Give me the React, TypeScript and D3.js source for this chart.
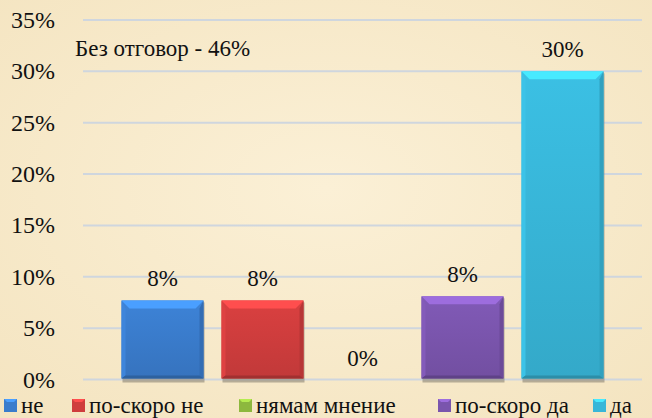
import * as d3 from 'd3';

const categories = ['не', 'по-скоро не', 'нямам мнение', 'по-скоро да', 'да'];
const values = [0.077, 0.077, 0, 0.081, 0.30];
const valueLabels = ['8%', '8%', '0%', '8%', '30%'];
const colors = ['#3a7ccc', '#cf3d3d', '#8db83e', '#7a55ad', '#38b6d8'];
const yTicks = [0, 0.05, 0.1, 0.15, 0.2, 0.25, 0.3, 0.35];
const note = 'Без отговор - 46%';
const legendX = [4, 72, 239, 438, 593];

const W = 652, H = 418;
const FONT = 'Liberation Serif';

const x = d3.scaleBand<string>()
    .domain(categories)
    .range([83, 642])
    .paddingInner(0.18)
    .paddingOuter(0.385);

const y = d3.scaleLinear()
    .domain([0, 0.35])
    .range([379.5, 20]);

const lighter = (c: string, k: number) => d3.color(c)!.brighter(k).toString();
const darker = (c: string, k: number) => d3.color(c)!.darker(k).toString();

function Bar({ i }: { i: number }) {
    const v = values[i];
    if (v <= 0) return null;
    const c = colors[i];
    const x0 = x(categories[i])!;
    const bw = x.bandwidth();
    const y0 = y(v);
    const y1 = y(0);
    const b = Math.min(8, (y1 - y0) / 2);
    return (
        <g>
            {/* shadow */}
            <rect x={x0 + 1} y={y0 + 2} width={bw} height={y1 - y0 + 1} fill="#8a8474" opacity={0.6} />
            <rect x={x0} y={y0} width={bw} height={y1 - y0 - 1} fill={'url(#body' + i + ')'} />
            <path d={`M${x0},${y0}L${x0 + bw},${y0}L${x0 + bw - b},${y0 + b}L${x0 + b},${y0 + b}Z`} fill={lighter(c, 0.7)} />
            <path d={`M${x0},${y0}L${x0 + 4},${y0 + b}L${x0 + 4},${y1 - 4}L${x0},${y1 - 1}Z`} fill={lighter(c, 0.2)} />
            <path d={`M${x0 + bw},${y0}L${x0 + bw - 4},${y0 + b}L${x0 + bw - 4},${y1 - 4}L${x0 + bw},${y1 - 1}Z`} fill={darker(c, 0.35)} />
            <path d={`M${x0},${y1 - 1}L${x0 + 4},${y1 - 4}L${x0 + bw - 4},${y1 - 4}L${x0 + bw},${y1 - 1}Z`} fill={darker(c, 0.7)} />
        </g>
    );
}

export default function App() {
    return (
        <svg width={W} height={H}
            style={{ position: 'absolute', left: 0, top: 0, display: 'block' }}>
            <style>{`text { font-family: 'Liberation Serif', 'Times New Roman', serif; }`}</style>
            <defs>
                <radialGradient id="bg" cx="50%" cy="45%" r="75%">
                    <stop offset="0%" stopColor="#fbf0d6" />
                    <stop offset="100%" stopColor="#f4e4c0" />
                </radialGradient>
                {colors.map((c, i) => (
                    <linearGradient key={i} id={'body' + i} x1={0} x2={0} y1={0} y2={1}>
                        <stop offset="0%" stopColor={lighter(c, 0.15)} />
                        <stop offset="100%" stopColor={darker(c, 0.2)} />
                    </linearGradient>
                ))}
            </defs>
            <rect width={W} height={H} fill="url(#bg)" />

            {/* grid */}
            {yTicks.map(t => (
                <line key={t} x1={83} x2={642} y1={y(t)} y2={y(t)} stroke="#cfd6de" strokeWidth={2} />
            ))}

            {/* y labels */}
            {yTicks.map(t => (
                <text key={t} x={55} y={y(t) + 8} textAnchor="end"
                    fontFamily={FONT} fontSize={24} fill="#111">
                    {Math.round(t * 100) + '%'}
                </text>
            ))}

            {categories.map((c, i) => <Bar key={c} i={i} />)}

            {/* value labels */}
            {categories.map((c, i) => (
                <text key={c} x={x(c)! + x.bandwidth() / 2} y={y(values[i]) - 14}
                    textAnchor="middle" fontFamily={FONT} fontSize={23} fill="#111">
                    {valueLabels[i]}
                </text>
            ))}

            <text x={75} y={56} fontFamily={FONT} fontSize={23} fill="#111">{note}</text>

            {/* legend */}
            {categories.map((c, i) => {
                const lx = legendX[i];
                return (
                    <g key={c}>
                        <rect x={lx} y={399} width={13} height={13} fill={colors[i]} />
                        <path d={`M${lx},399L${lx + 13},399L${lx + 10},402L${lx + 3},402Z`} fill={lighter(colors[i], 0.7)} />
                        <text x={lx + 17} y={413} fontFamily={FONT} fontSize={23} fill="#111">{c}</text>
                    </g>
                );
            })}
        </svg>
    );
}
